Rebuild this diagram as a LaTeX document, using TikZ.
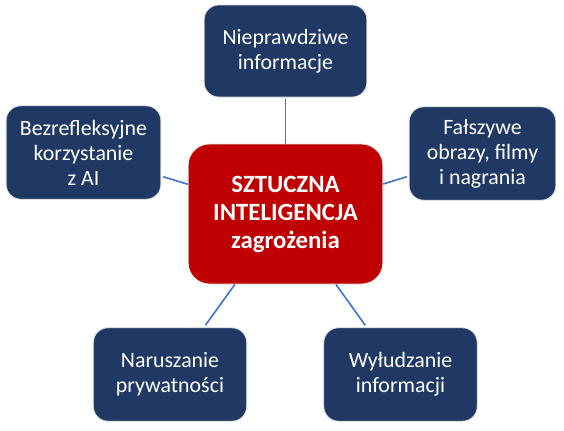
\documentclass[tikz,border=0pt]{standalone}
\usepackage{fontspec}
\setmainfont{Carlito}
\usepackage{tikz}
\usetikzlibrary{calc,positioning,shapes}
\definecolor{granat}{RGB}{31,56,100}
\definecolor{czerwien}{RGB}{192,0,0}
\definecolor{niebieski}{RGB}{68,114,196}

\begin{document}
\begin{tikzpicture}[x=0.75pt,y=-0.75pt,
		zagrozenie/.style={draw=black!15, line width=0.6pt, fill=granat, rounded corners=11pt, text=white, align=center, inner sep=0pt, font=\fontsize{16.4}{18.75}\selectfont},
		rdzen/.style={draw=black!10, line width=0.6pt, fill=czerwien, rounded corners=16pt, text=white, align=center, inner sep=0pt, minimum width=146pt, minimum height=105pt, font=\bfseries\fontsize{18.6}{21}\selectfont},
		linia/.style={draw=niebieski, line width=1.2pt}]
		\useasboundingbox (0,0) rectangle (564,430);

		\node[rdzen] (ai) at (285.5,214) {SZTUCZNA\\INTELIGENCJA\\zagrożenia};

		\node[zagrozenie, minimum width=122pt, minimum height=69pt] (nieprawdziwe) at (285.5,51) {Nieprawdziwe\\informacje};
		\node[zagrozenie, minimum width=116pt, minimum height=70pt] (bezrefleksyjne) at (83.5,152.5) {Bezrefleksyjne\\korzystanie\\z AI};
		\node[zagrozenie, minimum width=110pt, minimum height=70pt] (falszywe) at (482.5,153.5) {Fałszywe\\obrazy, filmy\\i nagrania};
		\node[zagrozenie, minimum width=115pt, minimum height=70pt] (naruszanie) at (170,374.5) {Naruszanie\\prywatności};
		\node[zagrozenie, minimum width=115pt, minimum height=70pt] (wyludzanie) at (400.5,374.5) {Wyłudzanie\\informacji};

		\draw[linia, shorten >=1.5pt] (ai) -- (nieprawdziwe);
		\draw[linia, shorten >=1.5pt] (ai) -- (bezrefleksyjne);
		\draw[linia, shorten >=1.5pt] (ai) -- (falszywe);
		\draw[linia, shorten >=2pt] (ai) -- (naruszanie);
		\draw[linia, shorten >=2pt] (ai) -- (wyludzanie);
	\end{tikzpicture}
\end{document}
